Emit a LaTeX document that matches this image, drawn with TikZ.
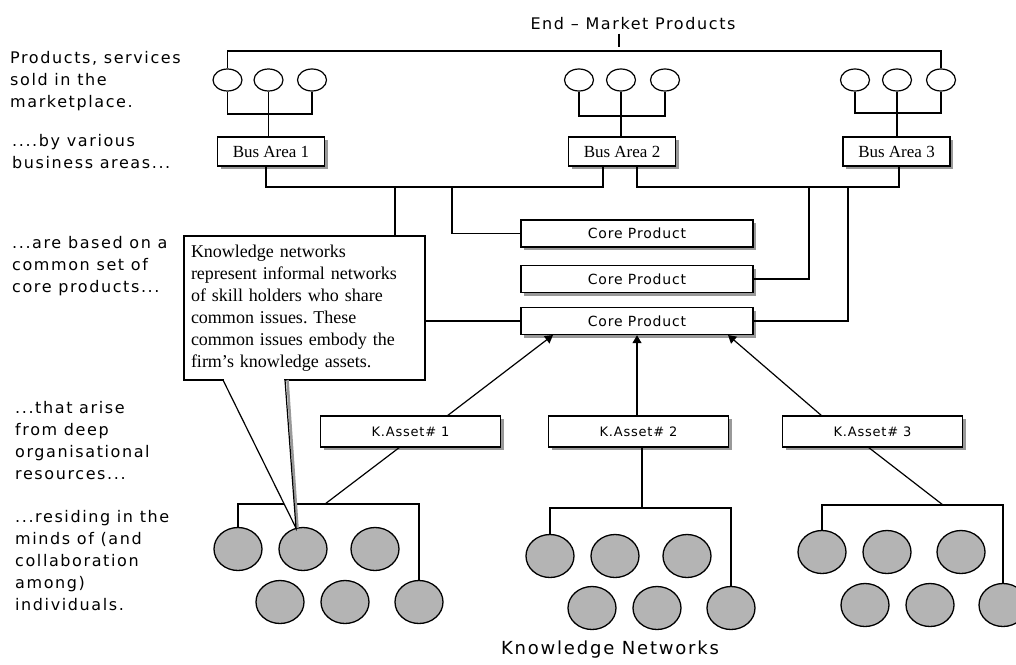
\documentclass[tikz,border=0pt]{standalone}
\usepackage{fontspec}
\setmainfont{Liberation Serif}
\newfontfamily\lblfont[LetterSpace=10]{DejaVu Sans}
\newfontfamily\boxfont[LetterSpace=6]{DejaVu Sans}
\usetikzlibrary{shapes.geometric,shadows,arrows.meta}
\definecolor{netgray}{RGB}{180,180,180}

\begin{document}
\begin{tikzpicture}[x=1pt,y=-1pt,
  wire/.style={line width=1.2pt},
  shadowed/.style={drop shadow={shadow xshift=3pt,shadow yshift=-3pt,fill=black!40,opacity=1}},
  busbox/.style={draw,line width=1.4pt,fill=white,minimum width=107pt,minimum height=29pt,
    inner sep=0pt,font=\fontsize{17}{20}\selectfont,shadowed},
  corebox/.style={draw,line width=1.4pt,fill=white,minimum width=232pt,minimum height=27pt,
    inner sep=0pt,font=\boxfont\fontsize{14}{16}\selectfont,shadowed},
  assetbox/.style={draw,line width=1.4pt,fill=white,minimum width=180pt,minimum height=31pt,
    inner sep=0pt,font=\boxfont\fontsize{13}{16}\selectfont,shadowed},
  prod/.style={ellipse,draw,line width=1.2pt,fill=white,minimum width=29pt,minimum height=22pt,inner sep=0pt},
  person/.style={ellipse,draw,line width=1.3pt,fill=netgray,minimum width=48pt,minimum height=43pt,inner sep=0pt},
  side/.style={anchor=north west,align=left,inner sep=0pt,font=\lblfont\fontsize{16}{22}\selectfont},
  note/.style={draw,line width=1.3pt,fill=white,minimum width=241pt,minimum height=144pt,
    text width=227pt,inner xsep=7pt,inner ysep=0pt,align=left,font=\fontsize{18}{22}\selectfont},
  arr/.style={wire,-{Triangle[width=9pt,length=8pt]}}]

\useasboundingbox[fill=white] (0,0) rectangle (1016,664);

% ---- side captions
\node[side] (c1) at (10,51) {Products, services\\sold in the\\marketplace.};
\node[side] (c2) at (12,134) {....by various\\business areas...};
\node[side] (c3) at (12,236) {...are based on a\\common set of\\core products...};
\node[side] (c4) at (15,401) {...that arise\\from deep\\organisational\\resources...};
\node[side] (c5) at (15,510) {...residing in the\\minds of (and\\collaboration\\among)\\individuals.};

% ---- end-market products
\node[font=\lblfont\fontsize{16}{18}\selectfont] (title) at (633,24) {End – Market Products};
\coordinate (tick) at (619,47);
\coordinate (topbar) at (600,51);

\node[prod] (p11) at (227.5,80) {};
\node[prod] (p12) at (268.5,80) {};
\node[prod] (p13) at (312,80) {};
\node[prod] (p21) at (579,80) {};
\node[prod] (p22) at (621,80) {};
\node[prod] (p23) at (665,80) {};
\node[prod] (p31) at (855,80) {};
\node[prod] (p32) at (897,80) {};
\node[prod] (p33) at (941,80) {};

\draw[wire] (title.south -| tick) -- (tick);
\draw[wire] (p11.north) |- (topbar) -| (p33.north);

% ---- business areas
\node[busbox] (bus1) at (271,151.5) {Bus Area 1};
\node[busbox] (bus2) at (622,151.5) {Bus Area 2};
\node[busbox] (bus3) at (896.5,151.5) {Bus Area 3};

\coordinate (g1) at (0,114);
\coordinate (g2) at (0,116);
\coordinate (g3) at (0,113);
\draw[wire] (p11.south) |- (p13.south |- g1) -- (p13.south);
\draw[wire] (p12.south) -- (p12.south |- bus1.north);
\draw[wire] (p21.south) |- (p23.south |- g2) -- (p23.south);
\draw[wire] (p22.south) -- (p22.south |- bus2.north);
\draw[wire] (p31.south) |- (p33.south |- g3) -- (p33.south);
\draw[wire] (p32.south) -- (p32.south |- bus3.north);

% ---- core products
\node[corebox] (coreA) at (637,233.5) {Core Product};
\node[corebox] (coreB) at (637,279) {Core Product};
\node[corebox] (coreC) at (637,321) {Core Product};

\coordinate (busL) at (266,187);
\coordinate (busM) at (603,187);
\coordinate (busN) at (637,187);
\coordinate (busR) at (899,187);
\coordinate (dropA) at (395,187);
\coordinate (dropB) at (452,187);
\coordinate (dropC) at (809,187);
\coordinate (dropD) at (848,187);

\draw[wire] (bus1.south -| busL) -- (busL) -- (busM) -- (bus2.south -| busM);
\draw[wire] (bus2.south -| busN) -- (busN) -- (busR) -- (bus3.south -| busR);
\draw[wire] (dropA) |- (coreC.west);
\draw[wire] (dropB) |- (coreA.west);
\draw[wire] (dropC) |- (coreB.east);
\draw[wire] (dropD) |- (coreC.east);

% ---- knowledge assets
\node[assetbox] (a1) at (410.5,431.5) {K.Asset\# 1};
\node[assetbox] (a2) at (638.5,431.5) {K.Asset\# 2};
\node[assetbox] (a3) at (872.5,431.5) {K.Asset\# 3};

\coordinate (a1t) at (447,416);
\coordinate (a3t) at (822,416);
\coordinate (cc1) at (553,335);
\coordinate (cc3) at (728,335);
\draw[arr] (a1t) -- (cc1);
\draw[arr] (a2.north -| busN) -- (coreC.south -| busN);
\draw[arr] (a3t) -- (cc3);

% ---- knowledge networks
\node[person] (k11) at (238,549) {};
\node[person] (k12) at (303,549) {};
\node[person] (k13) at (375,549) {};
\node[person] (k14) at (280,602) {};
\node[person] (k15) at (345,602) {};
\node[person] (k16) at (419,602) {};

\node[person] (k21) at (550,556) {};
\node[person] (k22) at (615,556) {};
\node[person] (k23) at (687,556) {};
\node[person] (k24) at (592,608) {};
\node[person] (k25) at (657,608) {};
\node[person] (k26) at (731,608) {};

\node[person] (k31) at (822,552) {};
\node[person] (k32) at (887,552) {};
\node[person] (k33) at (961,552) {};
\node[person] (k34) at (865,605) {};
\node[person] (k35) at (930,605) {};
\node[person] (k36) at (1003,605) {};

\coordinate (n1) at (325,504);
\coordinate (n2) at (642,508);
\coordinate (n3) at (943,505);
\coordinate (a1b) at (400,447);
\coordinate (a3b) at (868,447);

\draw[wire] (a1b) -- (n1);
\draw[wire] (k11.north) |- (n1) -| (k16.north);
\draw[wire] (a2.south -| n2) -- (n2);
\draw[wire] (k21.north) |- (n2) -| (k26.north);
\draw[wire] (a3b) -- (n3);
\draw[wire] (k31.north) |- (n3) -| (k36.north);

\node[font=\lblfont\fontsize{18}{20}\selectfont] (kn) at (610,650) {Knowledge Networks};

% ---- callout
\node[note] (note) at (304.5,308) {Knowledge networks\\represent informal networks\\of skill holders who share\\common issues.\ These\\common issues embody the\\firm's knowledge assets.};
\coordinate (tip) at (296,528);
\coordinate (pl) at (223,380);
\coordinate (pr) at (285,380);
\draw[black!40,line width=2.5pt] ([xshift=2.5pt]pr) -- ([xshift=1.5pt]tip);
\fill[white] (pl) -- (tip) -- (pr) -- cycle;
\fill[white] (224,377) rectangle (284,383);
\draw[wire] (pl) -- (tip) -- (pr);

\end{tikzpicture}
\end{document}
